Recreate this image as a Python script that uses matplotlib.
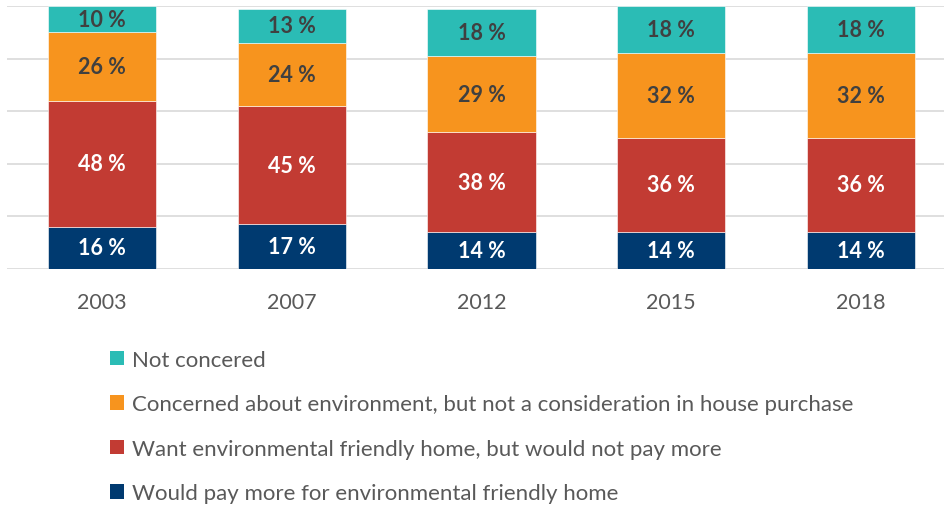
import numpy as np
import matplotlib.pyplot as plt
from matplotlib.patches import Patch

plt.rcParams['font.family'] = ['Lato', 'DejaVu Sans']

years = ['2003', '2007', '2012', '2015', '2018']
would_pay = [16, 17, 14, 14, 14]
want_no_pay = [48, 45, 38, 36, 36]
concerned = [26, 24, 29, 32, 32]
not_concerned = [10, 13, 18, 18, 18]

labels = ['Would pay more for environmental friendly home',
          'Want environmental friendly home, but would not pay more',
          'Concerned about environment, but not a consideration in house purchase',
          'Not concered']
colors = ['#003A70', '#C23B33', '#F7941E', '#2BBCB5']
text_colors = ['white', 'white', '#404040', '#404040']

series = [would_pay, want_no_pay, concerned, not_concerned]

fig = plt.figure(figsize=(9.45, 5.1), dpi=100)
ax = fig.add_axes([7/945, 1 - 270/510, 938/945, 263/510])

x = np.arange(len(years))
bottom = np.zeros(len(years))
for vals, col, tcol in zip(series, colors, text_colors):
    vals = np.array(vals)
    ax.bar(x, vals, 0.57, bottom=bottom, color=col, edgecolor='white', linewidth=0.4, zorder=3)
    for xi, b, v in zip(x, bottom, vals):
        ax.text(xi, b + v / 2, f'{v} %', ha='center', va='center',
                fontsize=15.5, fontweight='bold', color=tcol, zorder=4)
    bottom += vals

ax.set_xlim(-0.5, (945 - 102) / 189.75)
ax.set_ylim(0, 100)
ax.set_yticks(np.arange(0, 101, 20))
ax.yaxis.grid(True, color='#D9D9D9', linewidth=1.2, zorder=0)
ax.tick_params(axis='y', left=False, labelleft=False)
ax.tick_params(axis='x', bottom=False, pad=13, labelsize=15.5, labelcolor='#595959')
ax.set_xticks(x)
ax.set_xticklabels(years)
for s in ax.spines.values():
    s.set_visible(False)

handles = [Patch(facecolor=c, edgecolor='none') for c in colors[::-1]]
fig.legend(handles, labels[::-1], loc='upper left', bbox_to_anchor=(110/945, 1 - 351/510),
           frameon=False, fontsize=16, labelcolor='#595959',
           handlelength=0.62, handleheight=0.62, handletextpad=0.35,
           labelspacing=1.1, borderaxespad=0, borderpad=0)

fig.savefig('out.png', dpi=100)
